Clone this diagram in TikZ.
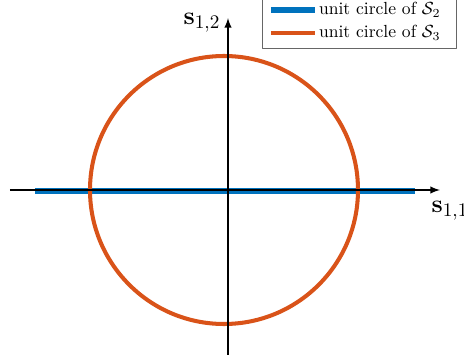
\documentclass[tikz,border=0pt]{standalone}
\usepackage{amsmath}
\usetikzlibrary{positioning}
\definecolor{mblue}{RGB}{0,114,189}
\definecolor{morange}{RGB}{217,83,25}
\tikzset{
  unitline/.style={line width=2.9pt},
  axisline/.style={line width=0.9pt,-latex},
  axislabel/.style={font=\fontsize{15.5}{18}\selectfont,inner sep=1pt},
  legtext/.style={anchor=west,inner sep=1pt}
}
\begin{document}
\begin{tikzpicture}[x=0.57pt,y=0.57pt,line join=round,>=latex]
  \useasboundingbox (-228,-174) rectangle (236,190);
  \coordinate (xl) at (-218,0);
  \coordinate (xr) at (212,0);
  \coordinate (yb) at (0,-165);
  \coordinate (yt) at (0,172);
  \draw[unitline,mblue] (-193,-1) -- (187,-1);
  \draw[line width=2.3pt,morange] (-4,0) circle (134);
  \draw[axisline] (xl) -- (xr);
  \draw[axisline] (yb) -- (yt);
  \node[axislabel] (s11) at (222,-21) {$\mathbf{s}_{1,1}$};
  \node[axislabel] (s12) at (-26,167) {$\mathbf{s}_{1,2}$};
  % legend
  \draw[line width=0.5pt,draw=black!60,fill=white] (34,142) rectangle (228,196);
  \draw[unitline,mblue] (43,180) -- (87,180);
  \draw[line width=2.3pt,morange] (43,157) -- (87,157);
  \node[legtext] (leg2) at (89,180) {unit circle of $\mathcal{S}_2$};
  \node[legtext] (leg3) at (89,157) {unit circle of $\mathcal{S}_3$};
\end{tikzpicture}
\end{document}
